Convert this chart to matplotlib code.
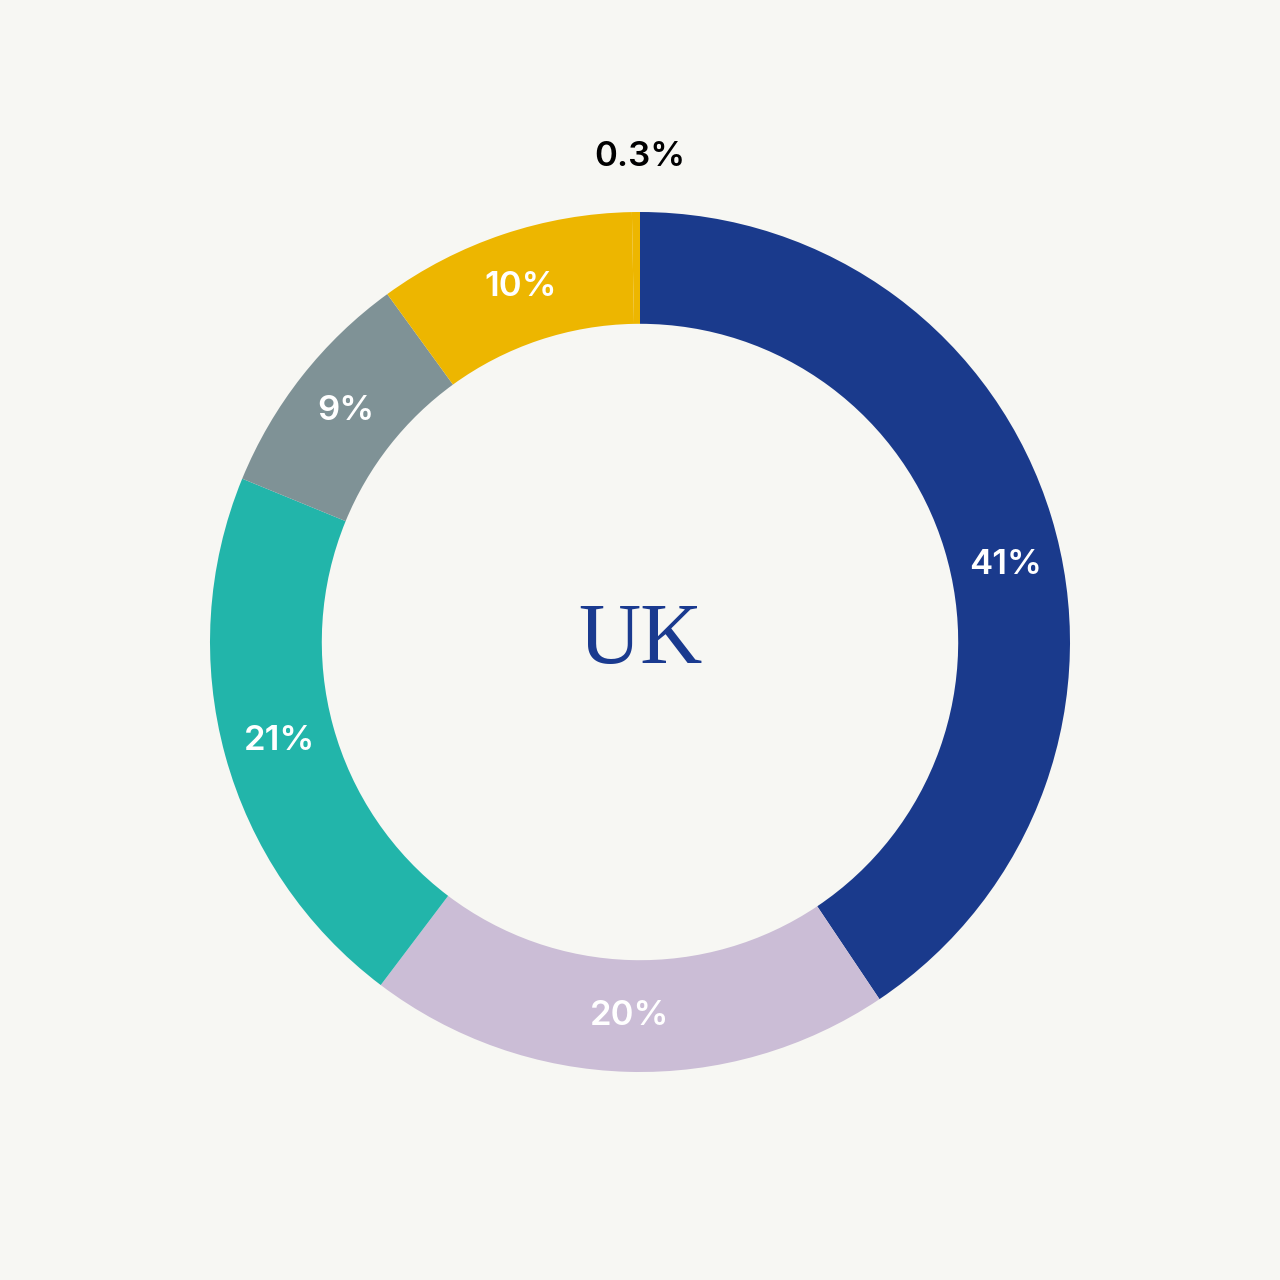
import matplotlib.pyplot as plt
import numpy as np

# share of each segment, clockwise from 12 o'clock
labels = ['41%', '20%', '21%', '9%', '10%', '0.3%']
values = [40.6, 19.7, 20.9, 8.8, 9.7, 0.3]
colors = ['#1a3a8c', '#cbbdd6', '#22b5aa', '#7f9296', '#edb600', '#edb600']
label_colors = ['white', 'white', 'white', 'white', 'white', 'black']
center_text = 'UK'

bg = '#f7f7f3'

fig = plt.figure(figsize=(12.8, 12.8), dpi=100, facecolor=bg)
ax = fig.add_axes([0, 0, 1, 1])
ax.set_facecolor(bg)

wedges, _ = ax.pie(values, colors=colors, startangle=90, counterclock=False,
                   radius=1.0, wedgeprops=dict(width=0.26, linewidth=0))

# labels on the ring, tiny slices go outside at the top
for i, (w, lab, c, v) in enumerate(zip(wedges, labels, label_colors, values)):
    mid = (w.theta1 + w.theta2) / 2
    if i == 0:
        mid -= 5  # big slice label sits a bit lower in the original
    if v > 1:
        r = 0.87
    else:
        r, mid = 1.128, 90
    ang = np.deg2rad(mid)
    ax.text(r * np.cos(ang), r * np.sin(ang), lab, color=c,
            ha='center', va='center', fontsize=25, fontweight='semibold',
            family=['Inter', 'DejaVu Sans'])

ax.text(0, 0, center_text, color='#1a3a8f', ha='center', va='center',
        fontsize=62, family=['Liberation Serif', 'DejaVu Serif'])

ax.set_xlim(-640 / 430, 640 / 430)
ax.set_ylim(-638 / 430, 642 / 430)
ax.set_aspect('equal')
ax.axis('off')

fig.savefig('out.png', dpi=100, facecolor=bg)
